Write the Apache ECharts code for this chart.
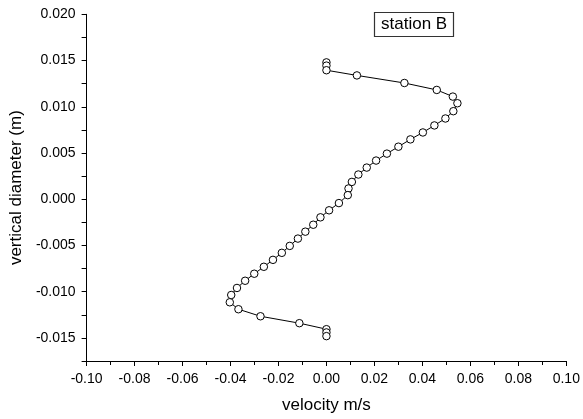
<!DOCTYPE html>
<html>
<head>
<meta charset="utf-8">
<script src="https://cdn.jsdelivr.net/npm/echarts@6/dist/echarts.min.js"></script>
<style>
html,body{margin:0;padding:0;background:#fff;}
#chart{width:583px;height:419px;}
</style>
</head>
<body>
<div id="chart"></div>
<script>
// velocity (m/s)
var velocity = [0, 0, 0, 0.0127, 0.0325, 0.0460, 0.0527, 0.0546, 0.0529, 0.0496, 0.0450, 0.0402, 0.0350, 0.0300, 0.0252, 0.0207, 0.0168, 0.0133, 0.0106, 0.0092, 0.0089, 0.0052, 0.0011, -0.0025, -0.0055, -0.0088, -0.0119, -0.0153, -0.0186, -0.0223, -0.0261, -0.0301, -0.0339, -0.0373, -0.0397, -0.0403, -0.0367, -0.0275, -0.0113, 0, 0, 0];
// vertical diameter (m)
var diameter = [0.0148, 0.01445, 0.01395, 0.01339, 0.01257, 0.01182, 0.0111, 0.01038, 0.00952, 0.00873, 0.00798, 0.00722, 0.00647, 0.00568, 0.00493, 0.00418, 0.00342, 0.00267, 0.00187, 0.00116, 0.00044, -0.00042, -0.0012, -0.00196, -0.00276, -0.00351, -0.00426, -0.00505, -0.0058, -0.00656, -0.00731, -0.00806, -0.00882, -0.0096, -0.01036, -0.01115, -0.0119, -0.01266, -0.01341, -0.01406, -0.01441, -0.01481];
var seriesName = 'station B';
var xTitle = 'velocity m/s';
var yTitle = 'vertical diameter (m)';

var points = velocity.map(function (v, i) { return [v, diameter[i]]; });
var font = 'Liberation Sans, Arial, sans-serif';

var chart = echarts.init(document.getElementById('chart'), null, {renderer: 'canvas'});
chart.setOption({
  animation: false,
  backgroundColor: '#fff',
  title: {
    text: seriesName,
    left: 374, top: 12,
    padding: [4, 7],
    borderColor: '#333', borderWidth: 1.2,
    textStyle: {fontFamily: font, fontSize: 17, lineHeight: 17, fontWeight: 'normal', color: '#000'}
  },
  grid: {left: 84.3, right: 16.7, top: 14.3, bottom: 56.3, containLabel: false},
  xAxis: {
    type: 'value', min: -0.1, max: 0.1, interval: 0.02,
    name: xTitle, nameLocation: 'middle', nameGap: 36,
    nameTextStyle: {fontFamily: font, fontSize: 17, color: '#000'},
    axisLine: {show: true, onZero: false, lineStyle: {color: '#000', width: 1}},
    axisTick: {show: true, inside: false, length: 5, lineStyle: {color: '#000'}},
    minorTick: {show: true, splitNumber: 2, length: 4, lineStyle: {color: '#000'}},
    splitLine: {show: false},
    axisLabel: {fontFamily: font, fontSize: 14, color: '#000', margin: 11,
      formatter: function (v) { return v.toFixed(2); }}
  },
  yAxis: {
    type: 'value', min: -0.0175, max: 0.02, interval: 0.0025,
    name: yTitle, nameLocation: 'middle', nameGap: 61, nameRotate: 90,
    nameTextStyle: {fontFamily: font, fontSize: 17, color: '#000'},
    axisLine: {show: true, onZero: false, lineStyle: {color: '#000', width: 1}},
    axisTick: {show: true, inside: false, length: 5, lineStyle: {color: '#000'}},
    splitLine: {show: false},
    axisLabel: {fontFamily: font, fontSize: 14, color: '#000', margin: 11, showMinLabel: true,
      formatter: function (v) {
        var k = Math.round(v / 0.005);
        if (Math.abs(k * 0.005 - v) > 1e-9) return '';
        return (k * 0.005).toFixed(3);
      }}
  },
  series: [{
    name: seriesName,
    type: 'line',
    data: points,
    symbol: 'circle',
    symbolSize: 7.5,
    showAllSymbol: true,
    lineStyle: {color: '#000', width: 1},
    itemStyle: {color: '#fff', borderColor: '#000', borderWidth: 1}
  }]
});
</script>
</body>
</html>
